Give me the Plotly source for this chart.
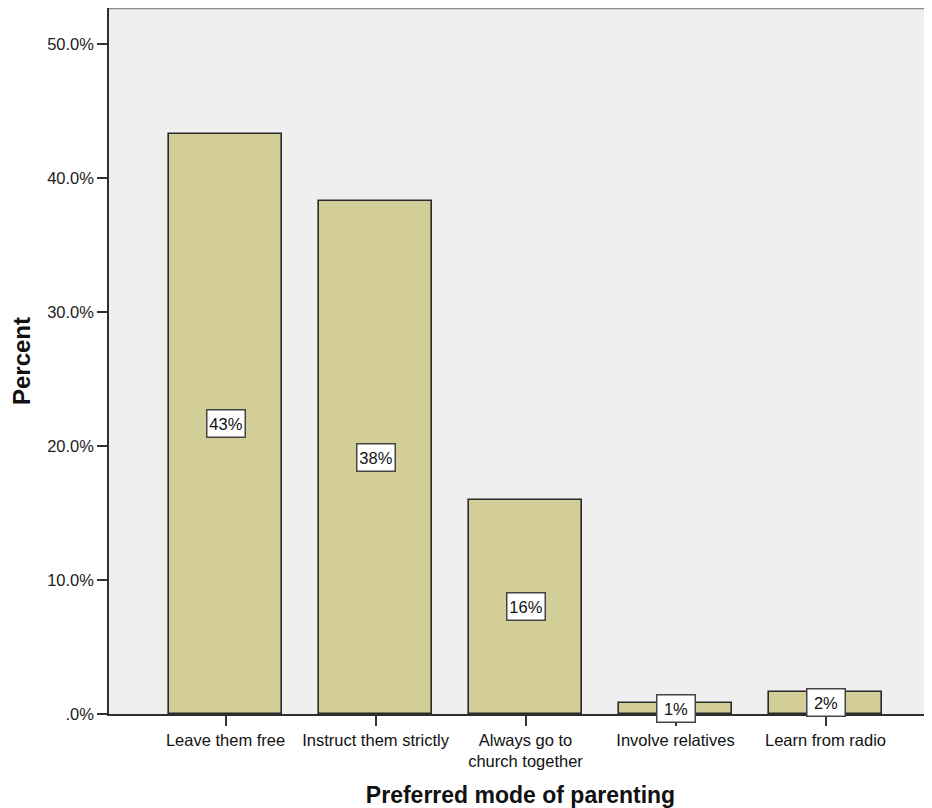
import plotly.graph_objects as go

categories = ["Leave them free", "Instruct them strictly", "Always go to<br>church together",
              "Involve relatives", "Learn from radio"]
percent_values = [43.3, 38.3, 16.0, 0.84, 1.66]
bar_labels = ["43%", "38%", "16%", "1%", "2%"]
y_tickvals = [0, 10, 20, 30, 40, 50]
y_ticktext = [".0%", "10.0%", "20.0%", "30.0%", "40.0%", "50.0%"]

FONT = "Liberation Sans, Arial, sans-serif"

fig = go.Figure()
fig.add_trace(go.Bar(
    x=list(range(len(categories))),
    y=percent_values,
    width=0.753,
    marker=dict(color="#D3CE97", line=dict(color="#2a2a2a", width=1.6)),
    hoverinfo="skip",
))

for i, (v, lab) in enumerate(zip(percent_values, bar_labels)):
    fig.add_annotation(
        x=i, y=v / 2, text=lab, showarrow=False,
        font=dict(family=FONT, size=16.5, color="#111"),
        bgcolor="white", bordercolor="#444", borderwidth=1.5, borderpad=1,
        width=35, height=24,
        xref="x", yref="y",
    )

fig.update_layout(
    width=924, height=800,
    margin=dict(l=101, r=0, t=0, b=93.5),
    paper_bgcolor="white",
    plot_bgcolor="#EFEFEF",
    showlegend=False,
    font=dict(family=FONT, color="#222"),
    bargap=0,
)

fig.update_xaxes(
    range=[-0.777, 4.71],
    tickvals=list(range(len(categories))),
    ticktext=categories,
    ticks="outside", ticklen=10, tickwidth=1.5, tickcolor="#333",
    tickfont=dict(family=FONT, size=16.5, color="#111"),
    showline=True, linecolor="#2e2e2e", linewidth=1.5,
    showgrid=False, zeroline=False,
    title=dict(text="<b>Preferred mode of parenting</b>",
               font=dict(family=FONT, size=23, color="#111"), standoff=22),
    automargin=False,
)
fig.update_yaxes(
    range=[0, 52.7],
    tickvals=y_tickvals, ticktext=y_ticktext,
    ticks="outside", ticklen=10, tickwidth=1.5, tickcolor="#333",
    tickfont=dict(family=FONT, size=16.5, color="#222"),
    showline=True, linecolor="#2e2e2e", linewidth=1.5,
    showgrid=False, zeroline=False,
    title=dict(text="<b>Percent</b>",
               font=dict(family=FONT, size=24, color="#111"), standoff=14),
    automargin=False,
)

fig.add_shape(type="line", xref="paper", yref="paper", x0=0, x1=1, y0=1, y1=1,
              line=dict(color="#8a8a8a", width=2.5))

fig.write_html("out.html")
